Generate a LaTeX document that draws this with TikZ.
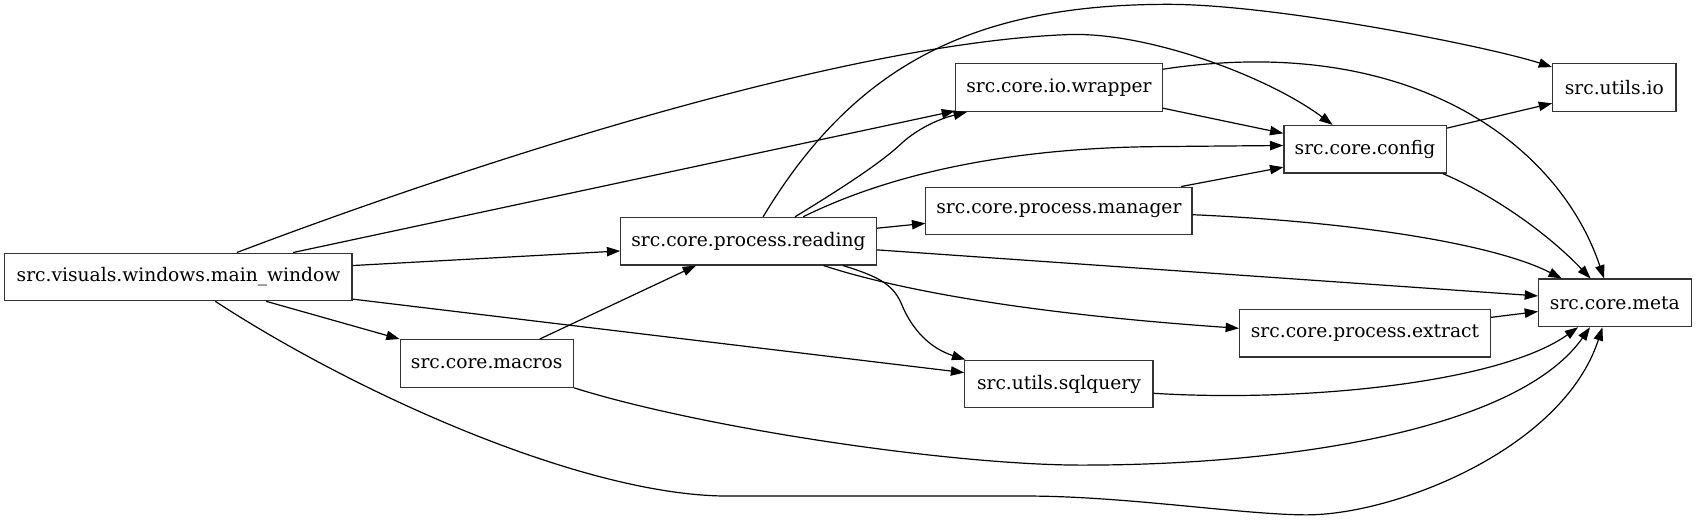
\documentclass[tikz,border=0pt]{standalone}
\usepackage{fontspec}
\setmainfont{DejaVu Serif}
\usetikzlibrary{arrows.meta,calc}
\begin{document}
\begin{tikzpicture}[x=0.8112pt,y=-0.8112pt,
  box/.style={draw=black!80, line width=0.9pt, rectangle, inner sep=0pt,
    minimum height=44*0.8112pt, font=\fontsize{14pt}{16pt}\selectfont},
  edge/.style={draw=black, line width=0.9pt, -{Triangle[length=10pt,width=7pt]}}]
\useasboundingbox (0,0) rectangle (1568,482);
\node[box, minimum width=321*0.8112pt] (main) at (165,256) {src.visuals.windows.main\_window};
\node[box, minimum width=160*0.8112pt] (macros) at (450,336) {src.core.macros};
\node[box, minimum width=236*0.8112pt] (reading) at (692,223) {src.core.process.reading};
\node[box, minimum width=191*0.8112pt] (wrapper) at (979,81) {src.core.io.wrapper};
\node[box, minimum width=246*0.8112pt] (manager) at (979,195) {src.core.process.manager};
\node[box, minimum width=174*0.8112pt] (sqlquery) at (979,355) {src.utils.sqlquery};
\node[box, minimum width=150*0.8112pt] (config) at (1262,138) {src.core.config};
\node[box, minimum width=232*0.8112pt] (extract) at (1262,308) {src.core.process.extract};
\node[box, minimum width=114*0.8112pt] (utilsio) at (1492.5,81) {src.utils.io};
\node[box, minimum width=141*0.8112pt] (meta) at (1493,280) {src.core.meta};

% from main_window
\draw[edge] ($(main.north)+(54,0)$) .. controls (439,150) and (780,40) .. (987,32)
  .. controls (1060,29) and (1172,70.5) .. ($(config.north)+(-30,0)$);
\draw[edge] ($(main.north)+(106,0)$) -- ($(wrapper.south west)+(0,-1)$);
\draw[edge] ($(main.east)+(0,-10.5)$) -- ($(reading.west)+(0,9)$);
\draw[edge] ($(main.south)+(81,0)$) -- (macros.north west);
\draw[edge] ($(main.south east)+(0,-2)$) -- ($(sqlquery.west)+(0,-10.5)$);
\draw[edge] ($(main.south)+(34,0)$) .. controls (329,363.5) and (540,458.6) .. (673,458.6)
  -- (949,458.6) .. controls (1040,458.6) and (1150,476) .. (1208,476)
  .. controls (1290,476) and (1445,415) .. ($(meta.south)+(-11.5,0)$);
% from macros
\draw[edge] ($(macros.north)+(49,0)$) -- ($(reading.south west)+(70,0)$);
\draw[edge] (macros.south east) .. controls (650,396) and (880,430) .. (1000,430)
  .. controls (1200,430) and (1405,395) .. ($(meta.south)+(-23,0)$);
% from reading
\draw[edge] ($(reading.north)+(13.5,0)$) .. controls (790,60) and (900,4) .. (1080,4)
  .. controls (1180,4) and (1376,43) .. ($(utilsio.west)+(0,-19)$);
\draw[edge] ($(reading.north)+(43,0)$) .. controls (780,173) and (815,150) .. (833,133)
  .. controls (848,119) and (868,110) .. ($(wrapper.south west)+(11,0)$);
\draw[edge] ($(reading.north)+(50.5,0)$) .. controls (800,172) and (900,138) .. (1063,135.6)
  -- ($(config.west)+(0,-3.5)$);
\draw[edge] ($(reading.east)+(0,-12)$) -- ($(manager.west)+(0,11.5)$);
\draw[edge] ($(reading.east)+(0,8)$) -- ($(meta.west)+(0,-6.4)$);
\draw[edge] ($(reading.south)+(69.5,0)$) .. controls (830,268) and (950,290) .. ($(extract.west)+(0,-4.5)$);
\draw[edge] ($(reading.south)+(87.5,0)$) .. controls (810,255) and (825,262) .. (833,280)
  .. controls (843,305) and (860,322) .. ($(sqlquery.north west)+(1,0)$);
% from wrapper
\draw[edge] ($(wrapper.east)+(0,19)$) -- ($(config.west)+(0,-14.7)$);
\draw[edge] ($(wrapper.east)+(0,-17)$) .. controls (1300,30) and (1440,130) .. ($(meta.north)+(-10,0)$);
% from manager
\draw[edge] ($(manager.north east)+(-10.5,0)$) -- ($(config.south west)+(0,-6)$);
\draw[edge] ($(manager.east)+(0,3.5)$) .. controls (1250,205) and (1380,225) .. ($(meta.north west)+(22,0)$);
% from config
\draw[edge] ($(config.east)+(0,-19.5)$) -- ($(utilsio.west)+(0,14.5)$);
\draw[edge] ($(config.south east)+(-3.5,0)$) .. controls (1380,180) and (1430,215) .. ($(meta.north)+(-22.5,0)$);
% from extract
\draw[edge] ($(extract.east)+(0,-14.6)$) -- ($(meta.west)+(0,8)$);
% from sqlquery
\draw[edge] ($(sqlquery.east)+(0,8.6)$) .. controls (1200,372) and (1385,355) .. ($(meta.south)+(-34,0)$);
\end{tikzpicture}
\end{document}
